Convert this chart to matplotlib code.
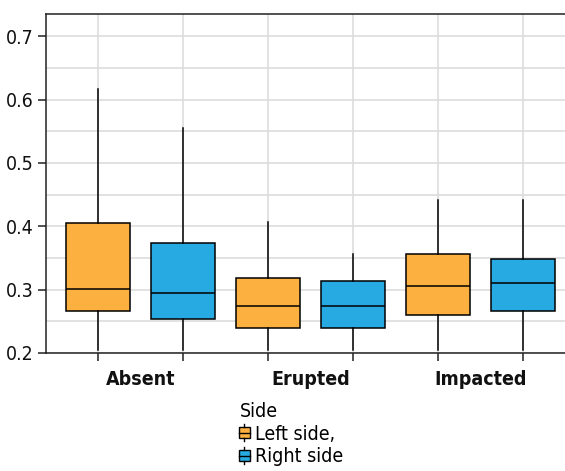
import numpy as np
import matplotlib
matplotlib.use("Agg")
from matplotlib import pyplot as plt
from matplotlib.patches import Rectangle
from matplotlib.lines import Line2D
from matplotlib.legend_handler import HandlerBase

plt.rcParams['font.family'] = ['DejaVu Sans']
plt.rcParams['font.stretch'] = 'condensed'

categories = ["Absent", "Erupted", "Impacted"]
sides = ["Left side,", "Right side"]
colors = ["#FBB040", "#27AAE1"]

# q1, median, q3, lower whisker, upper whisker
left_q1 = [0.266, 0.239, 0.260]
left_med = [0.301, 0.274, 0.306]
left_q3 = [0.4055, 0.318, 0.357]
left_lo = [0.205, 0.205, 0.205]
left_hi = [0.616, 0.407, 0.441]

right_q1 = [0.2536, 0.239, 0.2667]
right_med = [0.2946, 0.274, 0.310]
right_q3 = [0.3735, 0.3136, 0.349]
right_lo = [0.205, 0.205, 0.205]
right_hi = [0.555, 0.356, 0.441]


def make_stats(q1, med, q3, lo, hi):
    out = []
    for i in range(len(q1)):
        out.append(dict(q1=q1[i], med=med[i], q3=q3[i], whislo=lo[i], whishi=hi[i], fliers=[]))
    return out


class BoxHandler(HandlerBase):
    def create_artists(self, legend, orig_handle, xdescent, ydescent, width, height, fontsize, trans):
        cx = width / 2 - xdescent
        cy = height / 2 - ydescent
        bw = 8
        bh = 8
        r = Rectangle((cx - bw / 2, cy - bh / 2), bw, bh, facecolor=orig_handle.get_facecolor(),
                      edgecolor="black", lw=1.0, transform=trans)
        med = Line2D([cx - bw / 2, cx + bw / 2], [cy, cy], color="black", lw=1.0, transform=trans)
        w1 = Line2D([cx, cx], [cy + bh / 2, cy + bh / 2 + 2], color="black", lw=1.0, transform=trans)
        w2 = Line2D([cx, cx], [cy - bh / 2, cy - bh / 2 - 2], color="black", lw=1.0, transform=trans)
        return [r, med, w1, w2]


fig = plt.figure(figsize=(5.65, 4.71), dpi=100)
ax = fig.add_axes([46 / 565, 118 / 471, (575 - 46) / 565, (353 - 14) / 471])

pos_left = [0, 2, 4]
pos_right = [1, 3, 5]
stats = [make_stats(left_q1, left_med, left_q3, left_lo, left_hi),
         make_stats(right_q1, right_med, right_q3, right_lo, right_hi)]
for k, pos in enumerate([pos_left, pos_right]):
    ax.bxp(stats[k], positions=pos, widths=0.75, patch_artist=True, showfliers=False, showcaps=False,
           boxprops=dict(facecolor=colors[k], edgecolor="black", lw=1.1),
           medianprops=dict(color="black", lw=1.1),
           whiskerprops=dict(color="black", lw=1.1), zorder=3)

ax.set_xlim(-0.612, 5.612)
ax.set_ylim(0.2, 0.735)
ax.set_xticks(range(6))
ax.set_xticklabels([""] * 6)
ax.set_xticks([0.5, 2.5, 4.5], minor=True)
ax.set_xticklabels(categories, minor=True, fontweight="bold", fontsize=14, color="#111111")
ax.tick_params(axis="x", which="minor", length=0, pad=12)
ax.tick_params(axis="x", which="major", length=6, width=1.1, color="#222222")

ax.set_yticks([0.2, 0.3, 0.4, 0.5, 0.6, 0.7])
ax.set_yticklabels(["0.2", "0.3", "0.4", "0.5", "0.6", "0.7"], fontsize=14, color="#111111")
ax.set_yticks(np.arange(0.25, 0.74, 0.1), minor=True)
ax.tick_params(axis="y", which="major", length=6, width=1.1, color="#222222", pad=3)
ax.tick_params(axis="y", which="minor", length=0)

ax.grid(True, which="major", color="#dddddd", lw=1.2, zorder=0)
ax.grid(True, which="minor", axis="y", color="#dddddd", lw=1.2, zorder=0)
ax.set_axisbelow(True)

for s in ["left", "bottom", "top"]:
    ax.spines[s].set_color("#222222")
    ax.spines[s].set_linewidth(1.1)
ax.spines["right"].set_visible(False)

handles = [Rectangle((0, 0), 1, 1, facecolor=c) for c in colors]
leg = fig.legend(handles, sides, title="Side", loc="upper left", bbox_to_anchor=(226 / 565, 1 - 388 / 471),
                 frameon=False, fontsize=14, title_fontsize=14, handler_map={Rectangle: BoxHandler()},
                 handlelength=0.5, handletextpad=0.3, labelspacing=0.2, borderpad=0.2, alignment="left")

fig.savefig("out.png", dpi=100)
